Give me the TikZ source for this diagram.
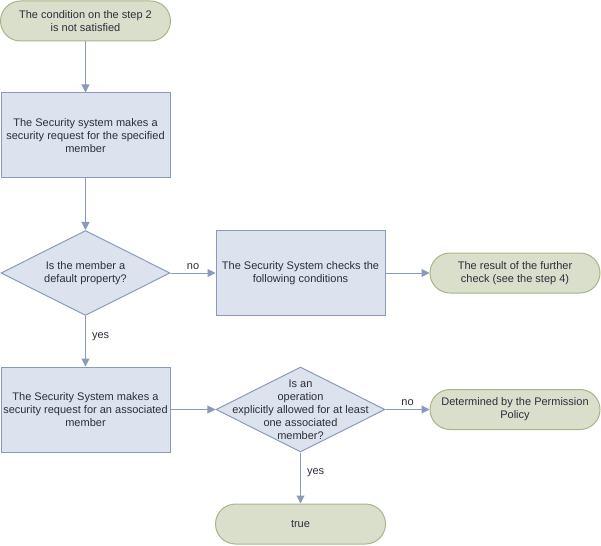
\documentclass[tikz,border=0pt]{standalone}
\usepackage{fontspec}
\setmainfont{Liberation Sans}
\usepackage{tikz}
\usetikzlibrary{arrows.meta,shapes.geometric}

\definecolor{boxfill}{RGB}{220,227,238}
\definecolor{boxline}{RGB}{138,155,186}
\definecolor{termfill}{RGB}{217,223,203}
\definecolor{termline}{RGB}{166,183,135}
\definecolor{txt}{RGB}{45,45,60}

\begin{document}
\begin{tikzpicture}[x=1pt,y=-1pt,-{Triangle[width=8pt,length=8pt]},color=boxline,line width=1pt]
      \tikzstyle{every node}=[font=\fontsize{11}{13}\selectfont,text=txt,align=center,inner sep=0pt]
      \tikzstyle{term}=[draw=termline,fill=termfill,rounded corners=20pt,minimum width=170pt,minimum height=40pt]
      \tikzstyle{box}=[draw=boxline,fill=boxfill,minimum width=169pt,minimum height=85pt]
      \tikzstyle{dia}=[draw=boxline,fill=boxfill,shape=diamond,minimum width=169pt,minimum height=85pt]

      \useasboundingbox (0,0) rectangle (601,545);

      \node[term] (s0) at (85.5,21) {The condition on the step 2\\is not satisfied};
      \node[box] (b1) at (85.5,135.5) {The Security system makes a\\security request for the specified\\member};
      \node[dia] (d1) at (85.5,273) {};
      \node (q1) at (d1) {Is the member a\\default property?};
      \node[box] (b2) at (300.5,273) {The Security System checks the\\following conditions};
      \node[term] (r1) at (515,273) {The result of the further\\check (see the step 4)};

      \node[box] (b3) at (85.5,409.5) {The Security System makes a\\security request for an associated\\member};
      \node[dia] (d2) at (300.5,409.5) {};
      \node (q2) at (d2) {Is an\\operation\\explicitly allowed for at least\\one associated\\member?};
      \node[term] (p1) at (515,409.5) {Determined by the Permission\\Policy};
      \node[term] (t1) at (300.5,524) {true};

      \draw (s0) -- (b1);
      \draw (b1) -- (d1);
      \draw (d1) -- node[above=3pt] {no} (b2);
      \draw (b2) -- (r1);
      \draw (d1) -- node[right=6pt,pos=0.4] {yes} (b3);

      \draw (b3) -- (d2);
      \draw (d2) -- node[above=3pt] {no} (p1);
      \draw (d2) -- node[right=6pt,pos=0.4] {yes} (t1);

    \end{tikzpicture}
\end{document}
